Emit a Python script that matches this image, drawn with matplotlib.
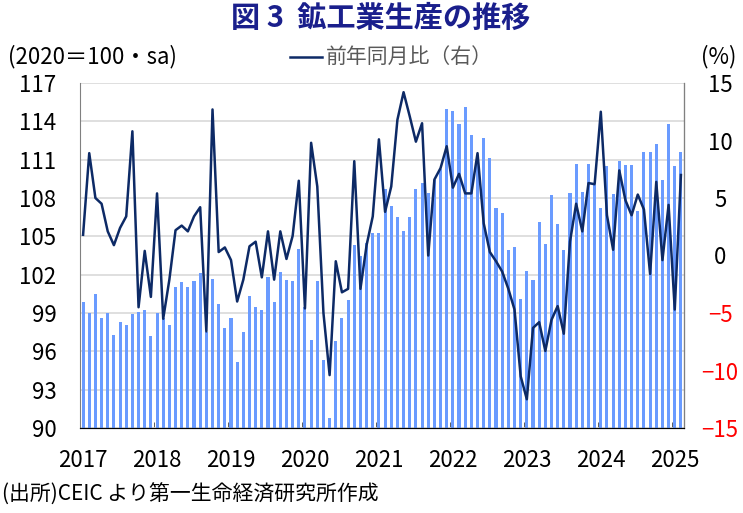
import numpy as np
import matplotlib
matplotlib.use('Agg')
import matplotlib.pyplot as plt
from matplotlib.lines import Line2D

plt.rcParams['font.family'] = ['Noto Sans CJK JP', 'DejaVu Sans']

# Monthly data, Jan 2017 - Feb 2025
ip_index = [
    99.9, 99.0, 100.5, 98.6, 99.0, 97.3, 98.3, 98.1, 98.9, 99.1, 99.2, 97.2,    # 2017
    99.0, 98.6, 98.1, 101.0, 101.4, 101.0, 101.5, 102.1, 97.5, 101.7, 99.7, 97.8,  # 2018
    98.6, 95.2, 97.5, 100.3, 99.5, 99.2, 101.8, 99.9, 102.2, 101.6, 101.5, 104.0,  # 2019
    99.5, 96.9, 101.5, 95.3, 90.8, 96.8, 98.6, 100.0, 104.3, 103.5, 104.5, 105.3,  # 2020
    105.3, 108.7, 107.4, 106.5, 105.4, 106.5, 108.7, 109.2, 108.4, 109.4, 110.3, 115.0,  # 2021
    114.8, 113.8, 115.1, 112.9, 111.3, 112.7, 111.1, 107.2, 106.8, 103.9, 104.2, 100.1,  # 2022
    102.3, 101.6, 106.1, 104.4, 108.2, 106.0, 103.9, 108.4, 110.7, 108.5, 110.7, 109.0,  # 2023
    107.2, 110.5, 108.3, 110.9, 110.6, 110.6, 107.0, 111.6, 111.6, 112.2, 109.4, 113.8,  # 2024
    110.5, 111.6,  # 2025
]
yoy = [
    1.8, 8.9, 5.0, 4.5, 2.1, 0.9, 2.4, 3.4, 10.8, -4.5, 0.4, -3.6,
    5.4, -5.5, -2.1, 2.2, 2.6, 2.1, 3.4, 4.2, -6.6, 12.7, 0.3, 0.7,
    -0.4, -4.0, -2.1, 0.8, 1.2, -1.9, 2.1, -2.1, 2.1, -0.3, 1.7, 6.5,
    -4.6, 9.8, 6.0, -5.0, -10.4, -0.5, -3.2, -2.9, 8.2, -2.9, 0.9, 3.4,
    10.1, 3.8, 6.0, 11.8, 14.2, 12.1, 9.9, 11.5, 0.0, 6.6, 7.6, 9.5,
    5.9, 7.1, 5.4, 5.4, 8.9, 2.8, 0.3, -0.5, -1.4, -2.9, -4.7, -10.5,
    -12.5, -6.3, -5.8, -8.3, -5.6, -4.4, -6.8, 1.2, 4.5, 2.1, 6.3, 6.2,
    12.5, 3.5, 0.5, 7.4, 4.8, 3.5, 5.3, 4.0, -1.6, 6.4, -0.4, 4.4,
    -4.7, 7.0,
]
years = ['2017', '2018', '2019', '2020', '2021', '2022', '2023', '2024', '2025']

x = np.arange(len(ip_index))

fig = plt.figure(figsize=(7.43, 5.13), dpi=100)
ax = fig.add_axes([80/743, 1 - 428/513, 604/743, 345/513])

# bars on left axis
ax.bar(x, ip_index, width=0.5, color='#6A9BFF', zorder=2)
ax.set_ylim(90, 117)
ax.set_yticks(np.arange(90, 118, 3))
ax.set_xlim(-0.5, len(x) - 0.5)
ax.grid(axis='y', color='#D9D9D9', linewidth=1.2, zorder=0)
ax.set_axisbelow(True)
ax.tick_params(axis='y', length=0, pad=17, labelsize=16)

# year labels on January, tick marks at year boundaries
ax.set_xticks(np.arange(0, len(x), 12))
ax.set_xticklabels(years, fontsize=16)
ax.tick_params(axis='x', which='major', length=0, pad=15)
ax.set_xticks(np.arange(11.5, len(x), 12), minor=True)
ax.tick_params(axis='x', which='minor', direction='in', length=4, color='#404040')

ax.spines['top'].set_visible(False)
ax.spines['left'].set_color('#808080')
ax.spines['bottom'].set_color('#404040')

# yoy line on right axis
ax2 = ax.twinx()
line, = ax2.plot(x, yoy, color='#0D2A66', linewidth=1.8, zorder=3)
ax2.set_ylim(-15, 15)
ax2.set_yticks(np.arange(-15, 16, 5))
ax2.tick_params(axis='y', length=0, pad=26, labelsize=16)
for lab, v in zip(ax2.get_yticklabels(), np.arange(-15, 16, 5)):
    lab.set_horizontalalignment('center')
    if v < 0:
        lab.set_color('#FF0000')
ax2.spines['top'].set_visible(False)
ax2.spines['right'].set_color('#808080')
ax2.spines['left'].set_visible(False)

# header texts
fig.text(381/743, 1 - 18/513, '図 3  鉱工業生産の推移', ha='center', va='center',
         fontsize=21, fontweight='bold', color='#1A1F8C')
fig.text(8/743, 1 - 57/513, '(2020＝100・sa)', ha='left', va='center', fontsize=16)
fig.text(736/743, 1 - 57/513, '(%)', ha='right', va='center', fontsize=16)
fig.add_artist(Line2D([290/743, 322/743], [1 - 57/513, 1 - 57/513],
                      transform=fig.transFigure, color='#0D2A66', linewidth=1.8))
fig.text(326/743, 1 - 57/513, '前年同月比（右）', ha='left', va='center',
         fontsize=15, color='#595959')
fig.text(2/743, 1 - 495/513, '(出所)CEIC より第一生命経済研究所作成', ha='left', va='center',
         fontsize=15)

plt.savefig('out.png', dpi=100)
plt.close()
